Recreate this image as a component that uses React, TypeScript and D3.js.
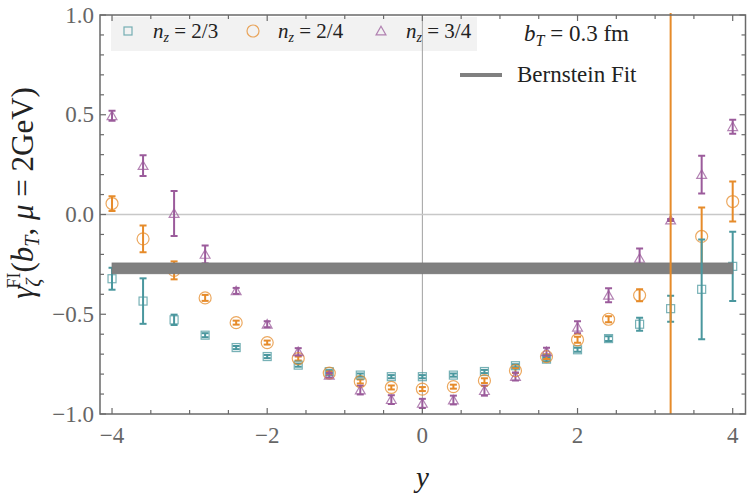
import * as d3 from "d3";

// rapidity values shared by the three series
const Y_VALUES = [-4, -3.6, -3.2, -2.8, -2.4, -2, -1.6, -1.2, -0.8, -0.4, 0, 0.4, 0.8, 1.2, 1.6, 2, 2.4, 2.8, 3.2, 3.6, 4];

const NZ23 = [-0.322, -0.434, -0.528, -0.605, -0.667, -0.712, -0.755, -0.788, -0.805, -0.813, -0.813, -0.805, -0.787, -0.758, -0.725, -0.678, -0.622, -0.55, -0.472, -0.375, -0.26];
const NZ23_ERR = [0.055, 0.114, 0.026, 0.01, 0.008, 0.008, 0.008, 0.008, 0.008, 0.008, 0.008, 0.008, 0.008, 0.008, 0.01, 0.01, 0.012, 0.033, 0.065, 0.25, 0.173];

const NZ24 = [0.055, -0.122, -0.28, -0.418, -0.542, -0.642, -0.722, -0.795, -0.837, -0.867, -0.875, -0.863, -0.833, -0.783, -0.712, -0.628, -0.525, -0.405, -1.2, -0.11, 0.065];
const NZ24_ERR = [0.037, 0.067, 0.045, 0.015, 0.01, 0.01, 0.01, 0.008, 0.01, 0.01, 0.01, 0.01, 0.012, 0.012, 0.012, 0.015, 0.015, 0.03, 2.3, 0.145, 0.1];

const NZ34 = [0.495, 0.245, 0.005, -0.2, -0.383, -0.55, -0.688, -0.806, -0.88, -0.928, -0.947, -0.93, -0.883, -0.812, -0.688, -0.565, -0.405, -0.22, -0.028, 0.2, 0.44];
const NZ34_ERR = [0.025, 0.052, 0.113, 0.045, 0.015, 0.015, 0.018, 0.012, 0.022, 0.022, 0.023, 0.022, 0.025, 0.02, 0.02, 0.03, 0.035, 0.05, 0.005, 0.095, 0.035];

const FIT_LOW = -0.297;
const FIT_HIGH = -0.243;
const FIT_RANGE = [-4, 4];

const X_MAJOR = [-4, -2, 0, 2, 4];
const Y_MAJOR = [-1, -0.5, 0, 0.5, 1];

const TEAL = "#4a979e";
const ORANGE = "#e68b2a";
const PURPLE = "#9b5b9b";

const W = 747;
const H = 499;
const left = 100;
const right = 745.5;
const top = 15;
const bottom = 414;

const SERIES = [
  { name: "2/3", values: NZ23, errs: NZ23_ERR, color: TEAL, shape: "square" },
  { name: "2/4", values: NZ24, errs: NZ24_ERR, color: ORANGE, shape: "circle" },
  { name: "3/4", values: NZ34, errs: NZ34_ERR, color: PURPLE, shape: "triangle" },
];

const FONT = '"Liberation Serif", Tinos, "Times New Roman", Times, "DejaVu Serif", "Noto Serif", serif';
const NB = "\u00a0";

function Marker({ shape, cx, cy, color }: { shape: string; cx: number; cy: number; color: string }) {
  const common = { fill: "none", stroke: color, strokeWidth: 1.2, strokeOpacity: 0.75 };
  if (shape === "square") return <rect x={cx - 4} y={cy - 4} width={8} height={8} {...common} />;
  if (shape === "circle") return <circle cx={cx} cy={cy} r={6} {...common} />;
  const sym = d3.symbol(d3.symbolTriangle, 42)();
  return <path d={sym ?? ""} transform={`translate(${cx},${cy + 1})`} {...common} />;
}

function ErrorBar({ x, y0, y1, color }: { x: number; y0: number; y1: number; color: string }) {
  return (
    <g stroke={color} strokeWidth={2}>
      <line x1={x} x2={x} y1={y0} y2={y1} />
      <line x1={x - 3.5} x2={x + 3.5} y1={y0} y2={y0} />
      <line x1={x - 3.5} x2={x + 3.5} y1={y1} y2={y1} />
    </g>
  );
}

export default function App() {
  const x = d3.scaleLinear().domain([-4.155, 4.165]).range([left, right]);
  const y = d3.scaleLinear().domain([-1, 1]).range([bottom, top]);

  const xMinor = d3.range(-4, 4.01, 0.5);
  const yMinor = d3.range(-1, 1.001, 0.1);
  const axisColor = "#6a6a6a";

  const bars = (big: boolean) =>
    SERIES.map((s) =>
      Y_VALUES.map((yv, i) =>
        (s.errs[i] > 0.2) === big ? (
          <ErrorBar
            key={`${s.name}-${i}`}
            x={x(yv)}
            y0={y(s.values[i] + s.errs[i])}
            y1={y(s.values[i] - s.errs[i])}
            color={s.color}
          />
        ) : null
      )
    );

  return (
    <svg width={W} height={H} style={{ position: "absolute", left: 0, top: 0, background: "#fff", fontFamily: FONT }}>
      <defs>
        <clipPath id="plot">
          <rect x={left} y={top - 2} width={right - left} height={bottom - top + 2} />
        </clipPath>
      </defs>

      {/* legend background */}
      <rect x={111} y={17} width={366} height={34} fill="#f2f2f2" />

      {/* zero lines */}
      <line x1={x(0)} x2={x(0)} y1={top} y2={bottom} stroke="#a0a0a0" strokeWidth={1} />
      <line x1={left} x2={right} y1={y(0)} y2={y(0)} stroke="#c8c8c8" strokeWidth={1.5} />

      <g clipPath="url(#plot)">
        {bars(false)}
        {SERIES.map((s) =>
          Y_VALUES.map((yv, i) => (
            <Marker key={`m${s.name}-${i}`} shape={s.shape} cx={x(yv)} cy={y(s.values[i])} color={s.color} />
          ))
        )}
        {/* Bernstein fit band */}
        <rect
          x={x(FIT_RANGE[0])}
          width={x(FIT_RANGE[1]) - x(FIT_RANGE[0])}
          y={y(FIT_HIGH)}
          height={y(FIT_LOW) - y(FIT_HIGH)}
          fill="#808080"
          stroke="#777"
          strokeWidth={0.8}
        />
        {bars(true)}
      </g>

      {/* frame */}
      <rect x={left} y={top} width={right - left} height={bottom - top} fill="none" stroke={axisColor} strokeWidth={1.5} />

      {/* ticks */}
      <g stroke={axisColor} strokeWidth={1.2}>
        {xMinor.map((t) => {
          const len = X_MAJOR.some((m) => Math.abs(m - t) < 1e-6) ? 6 : 4;
          return (
            <g key={`xt${t}`}>
              <line x1={x(t)} x2={x(t)} y1={bottom} y2={bottom - len} />
              <line x1={x(t)} x2={x(t)} y1={top} y2={top + len} />
            </g>
          );
        })}
        {yMinor.map((t) => {
          const len = Y_MAJOR.some((m) => Math.abs(m - t) < 1e-6) ? 6 : 4;
          return (
            <g key={`yt${t}`}>
              <line x1={left} x2={left + len} y1={y(t)} y2={y(t)} />
              <line x1={right} x2={right - len} y1={y(t)} y2={y(t)} />
            </g>
          );
        })}
      </g>

      {/* tick labels */}
      <g fill="#666" fontSize={23}>
        {X_MAJOR.map((t) => (
          <text key={`xl${t}`} x={x(t)} y={443} textAnchor="middle">
            {t < 0 ? `\u2212${Math.abs(t)}` : `${t}`}
          </text>
        ))}
        {Y_MAJOR.map((t) => (
          <text key={`yl${t}`} x={94} y={y(t) + 7.5} textAnchor="end">
            {(t < 0 ? "\u2212" : "") + d3.format(".1f")(Math.abs(t))}
          </text>
        ))}
      </g>

      {/* axis titles */}
      <text x={x(0)} y={487} fontSize={29} fontStyle="italic" textAnchor="middle" fill="#222">
        y
      </text>
      <text transform="translate(33,193) rotate(-90)" fontSize={31} textAnchor="middle" fill="#222">
        <tspan fontStyle="italic">γ</tspan>
        <tspan fontStyle="italic" fontSize={20} dy={7}>ζ</tspan>
        <tspan fontSize={18} dx={-10} dy={-20}>FI</tspan>
        <tspan dy={13}>(</tspan>
        <tspan fontStyle="italic">b</tspan>
        <tspan fontStyle="italic" fontSize={20} dy={6}>T</tspan>
        <tspan dy={-6}>,{NB}</tspan>
        <tspan fontStyle="italic">μ</tspan>
        <tspan>{`${NB}=${NB}2GeV)`}</tspan>
      </text>

      {/* legend */}
      {SERIES.map((s, i) => {
        const mx = [128, 253, 381][i];
        return (
          <g key={`lg${s.name}`}>
            <Marker shape={s.shape} cx={mx} cy={31} color={s.color} />
            <text x={mx + 25} y={38} fontSize={21} fill="#222">
              <tspan fontStyle="italic">n</tspan>
              <tspan fontStyle="italic" fontSize={14} dy={4}>z</tspan>
              <tspan dy={-4}>{`${NB}=${NB}${s.name}`}</tspan>
            </text>
          </g>
        );
      })}

      <text x={524} y={41} fontSize={23} fill="#222">
        <tspan fontStyle="italic">b</tspan>
        <tspan fontStyle="italic" fontSize={16} dy={5}>T</tspan>
        <tspan dy={-5}>{`${NB}=${NB}0.3 fm`}</tspan>
      </text>
      <line x1={460} x2={502} y1={75} y2={75} stroke="#808080" strokeWidth={4} />
      <text x={517} y={82} fontSize={23} fill="#222">
        Bernstein Fit
      </text>
    </svg>
  );
}
